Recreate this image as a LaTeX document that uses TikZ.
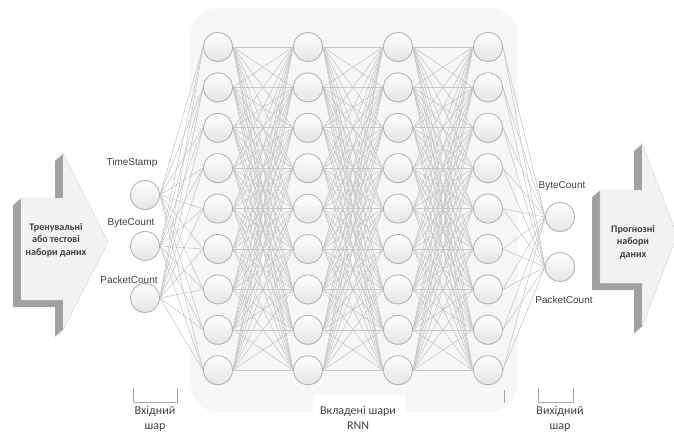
\documentclass[tikz,border=0pt]{standalone}
\usepackage{fontspec}
\setmainfont{Carlito}
\newfontfamily\arialish{Liberation Sans}
\usetikzlibrary{calc}
\definecolor{linkgray}{RGB}{200,200,200}
\definecolor{ringgray}{RGB}{180,180,180}
\definecolor{bodygray}{RGB}{228,228,228}
\definecolor{sidegray}{RGB}{160,160,160}
\definecolor{facegray}{RGB}{242,242,242}
\definecolor{panelgray}{RGB}{246,246,246}
\definecolor{textgray}{RGB}{64,64,64}
\pgfdeclarelayer{panel}
\pgfdeclarelayer{links}
\pgfsetlayers{panel,links,main}

\begin{document}
\begin{tikzpicture}[x=1pt,y=-1pt,
  neuron/.style={circle,draw=ringgray,line width=0.9pt,top color=white,bottom color=bodygray,minimum size=29pt,inner sep=0pt},
  link/.style={linkgray,line width=0.6pt},
  lbl/.style={text=textgray,font=\fontsize{12}{15}\selectfont,align=center,inner sep=0pt},
  featlbl/.style={lbl,font=\arialish\fontsize{10}{12}\selectfont},
  boldlbl/.style={lbl,font=\bfseries\fontsize{10}{12.5}\selectfont},
  brace/.style={draw=gray!70,line width=0.6pt}]
  \useasboundingbox (0,0) rectangle (674,433);
  % panel behind the RNN layers
  \begin{pgfonlayer}{panel}
    \fill[panelgray,rounded corners=28pt] (190,8) rectangle (518,412);
  \end{pgfonlayer}
  % neurons
  \foreach \i/\y in {1/195,2/246,3/298} \node[neuron] (in\i) at (145,\y) {};
  \foreach \l/\x in {1/218,2/308,3/398,4/488}
    \foreach \r in {1,...,9}
      \node[neuron] (h\l-\r) at (\x,{47+40.4*(\r-1)}) {};
  \foreach \o/\y in {1/217,2/267} \node[neuron] (out\o) at (560,\y) {};
  % full connections
  \begin{pgfonlayer}{links}
    \foreach \i in {1,2,3} \foreach \r in {1,...,9}
      \draw[link] (in\i.east) -- (h1-\r.west);
    \foreach \l/\n in {1/2,2/3,3/4} \foreach \a in {1,...,9} \foreach \b in {1,...,9}
      \draw[link] (h\l-\a.east) -- (h\n-\b.west);
    \foreach \r in {1,...,9} \foreach \o in {1,2}
      \draw[link] (h4-\r.east) -- (out\o.west);
  \end{pgfonlayer}
  % feature labels
  \node[featlbl] (tsLabel) at (132,163) {TimeStamp};
  \node[featlbl] (bcLabel) at (131,223) {ByteCount};
  \node[featlbl] (pcLabel) at (129,280) {PacketCount};
  \node[featlbl] (bcOutLabel) at (562,186) {ByteCount};
  \node[featlbl] (pcOutLabel) at (564,300) {PacketCount};
  % input data arrow
  \foreach \d in {8,7.5,...,0.5}
    \fill[sidegray,shift={(-\d,{0.875*\d})}] (21,198) -- (63,198) -- (63,153) -- (108,242) -- (63,330) -- (63,300) -- (21,300) -- cycle;
  \draw[gray!35,fill=facegray] (21,198) -- (63,198) -- (63,153) -- (108,242) -- (63,330) -- (63,300) -- (21,300) -- cycle;
  \node[boldlbl] (inData) at (56,240) {Тренувальні\\або тестові\\набори даних};
  % output data arrow
  \foreach \d in {8,7.5,...,0.5}
    \fill[sidegray,shift={(-\d,{0.875*\d})}] (600,190) -- (642,190) -- (642,143) -- (677,235) -- (642,327) -- (642,283) -- (600,283) -- cycle;
  \draw[gray!35,fill=facegray] (600,190) -- (642,190) -- (642,143) -- (677,235) -- (642,327) -- (642,283) -- (600,283) -- cycle;
  \node[boldlbl] (outData) at (633,242) {Прогнозні\\набори\\даних};
  % layer brackets
  \draw[brace] (133,388) -- (133,402) -- (177,402) -- (177,388);
  \draw[brace] (504,390) -- (504,403);
  \draw[brace] (538,388) -- (538,402) -- (573,402) -- (573,388);
  \fill[white] (313,395) rectangle (405,433);
  \node[lbl] (inCap) at (155,419) {Вхідний\\шар};
  \node[lbl] (rnnCap) at (358,418) {Вкладені шари\\RNN};
  \node[lbl] (outCap) at (560,419) {Вихідний\\шар};
\end{tikzpicture}
\end{document}
